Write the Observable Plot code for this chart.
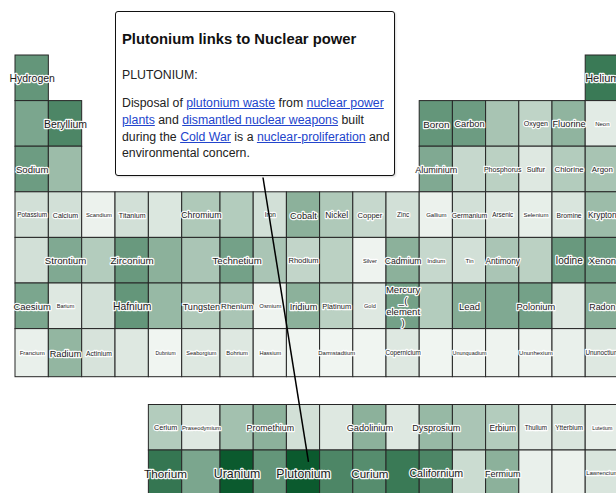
<!DOCTYPE html>
<html>
<head>
<meta charset="utf-8">
<script src="https://cdn.jsdelivr.net/npm/d3@7"></script>
<script src="https://cdn.jsdelivr.net/npm/@observablehq/plot@0.6"></script>
<style>
  html, body { margin: 0; padding: 0; background: #fff; overflow: hidden; }
  #wrap { position: relative; width: 616px; height: 493px; }
  #chart svg { display: block; }
  .tip {
    position: absolute; left: 115px; top: 11px; width: 278px; height: 163px;
    background: #fff; border: 1.5px solid #111; border-radius: 3px;
    font-family: "Liberation Sans", Arial, sans-serif; color: #222;
    box-shadow: 1px 1px 2px rgba(0,0,0,0.15);
  }
  .tip .t { position: absolute; left: 6px; top: 19px; font-weight: bold; font-size: 14.8px; line-height: 17px; white-space: nowrap; color: #111; }
  .tip .h { position: absolute; left: 6px; top: 55px; font-size: 12.3px; line-height: 16px; white-space: nowrap; }
  .tip .p { position: absolute; left: 6px; top: 83px; font-size: 12.3px; line-height: 16.8px; white-space: nowrap; }
  .tip a { color: #2244cc; text-decoration: underline; }
</style>
</head>
<body>
<div id="wrap">
  <div id="chart"></div>
  <div class="tip">
    <div class="t">Plutonium links to Nuclear power</div>
    <div class="h">PLUTONIUM:</div>
    <div class="p">Disposal of <a>plutonium waste</a> from <a>nuclear power</a><br><a>plants</a> and <a>dismantled nuclear weapons</a> built<br>during the <a>Cold War</a> is a <a>nuclear-proliferation</a> and<br>environmental concern.</div>
  </div>
</div>
<script>
// Element names in atomic-number order (1..118)
const names = [
  "Hydrogen","Helium","Lithium","Beryllium","Boron","Carbon","Nitrogen","Oxygen","Fluorine","Neon",
  "Sodium","Magnesium","Aluminium","Silicon","Phosphorus","Sulfur","Chlorine","Argon","Potassium","Calcium",
  "Scandium","Titanium","Vanadium","Chromium","Manganese","Iron","Cobalt","Nickel","Copper","Zinc",
  "Gallium","Germanium","Arsenic","Selenium","Bromine","Krypton","Rubidium","Strontium","Yttrium","Zirconium",
  "Niobium","Molybdenum","Technetium","Ruthenium","Rhodium","Palladium","Silver","Cadmium","Indium","Tin",
  "Antimony","Tellurium","Iodine","Xenon","Caesium","Barium","Lanthanum","Cerium","Praseodymium","Neodymium",
  "Promethium","Samarium","Europium","Gadolinium","Terbium","Dysprosium","Holmium","Erbium","Thulium","Ytterbium",
  "Lutetium","Hafnium","Tantalum","Tungsten","Rhenium","Osmium","Iridium","Platinum","Gold","Mercury\n_(\nelement\n)",
  "Thallium","Lead","Bismuth","Polonium","Astatine","Radon","Francium","Radium","Actinium","Thorium",
  "Protactinium","Uranium","Neptunium","Plutonium","Americium","Curium","Berkelium","Californium","Einsteinium","Fermium",
  "Mendelevium","Nobelium","Lawrencium","Rutherfordium","Dubnium","Seaborgium","Bohrium","Hassium","Meitnerium","Darmstadtium",
  "Roentgenium","Copernicium","Ununtrium","Ununquadium","Ununpentium","Ununhexium","Ununseptium","Ununoctium"
];

// Link strength to "Nuclear power" (0 = none, 1 = strongest), by atomic number
const strength = [
  0.62,0.80,0.52,0.72,0.62,0.58,0.33,0.23,0.43,0.08,
  0.58,0.38,0.50,0.20,0.25,0.10,0.28,0.33,0.15,0.15,
  0.04,0.15,0.11,0.30,0.28,0.15,0.45,0.30,0.20,0.15,
  0.04,0.15,0.10,0.06,0.12,0.38,0.15,0.50,0.28,0.60,
  0.45,0.32,0.55,0.32,0.22,0.25,0.03,0.45,0.20,0.15,
  0.32,0.25,0.60,0.58,0.52,0.10,0.15,0.28,0.10,0.35,
  0.45,0.15,0.10,0.45,0.10,0.40,0.32,0.28,0.08,0.12,
  0.07,0.62,0.40,0.30,0.32,0.03,0.45,0.25,0.10,0.55,
  0.28,0.48,0.50,0.55,0.10,0.48,0.05,0.42,0.13,0.82,
  0.52,1.00,0.62,1.00,0.72,0.68,0.80,0.72,0.18,0.45,
  0.05,0.04,0.12,0.10,0.02,0.10,0.10,0.03,0.02,0.02,
  0.02,0.10,0.02,0.03,0.03,0.03,0.05,0.10
];

// Label prominence (0 = no label shown), by atomic number
const prominence = [
  8.1,8.8,0,8.1,7.3,6.5,0,3.8,6.5,2.5,
  7.0,0,6.3,0,3.8,3.8,4.8,4.8,3.0,3.8,
  2.3,3.8,0,5.9,0,3.1,6.6,5.5,4.5,3.1,
  2.5,3.5,2.9,2.5,3.4,5.4,0,7.1,0,7.3,
  0,0,7.0,0,4.4,0,2.0,5.8,2.6,2.5,
  5.3,0,7.5,6.8,6.9,1.9,0,4.0,2.3,0,
  6.0,0,0,6.5,0,6.4,0,5.5,2.9,3.1,
  1.6,7.9,0,6.3,5.0,2.4,6.5,4.3,1.9,6.9,
  0,6.9,0,6.6,0,6.1,2.5,6.5,3.4,9.6,
  0,10.4,0,10.3,0,9.4,0,8.3,0,6.3,
  0,0,2.5,0,1.3,2.0,2.3,2.0,0,2.4,
  0,2.9,0,1.8,0,2.5,0,2.9
];

// Periodic-table layout: [column, row] from atomic number (f-block rows are 9 and 10)
function place(z) {
  if (z === 1) return [1, 1];
  if (z === 2) return [18, 1];
  if (z <= 18) {
    const start = z <= 10 ? 3 : 11, row = z <= 10 ? 2 : 3, i = z - start;
    return [i < 2 ? i + 1 : i + 11, row];
  }
  if (z <= 54) { const start = z <= 36 ? 19 : 37; return [z - start + 1, z <= 36 ? 4 : 5]; }
  if (z <= 86) {
    if (z <= 57) return [z - 54, 6];
    if (z <= 71) return [z - 53, 9];
    return [z - 68, 6];
  }
  if (z <= 89) return [z - 86, 7];
  if (z <= 103) return [z - 85, 10];
  return [z - 100, 7];
}

const cells = names.map((name, i) => {
  const [col, row] = place(i + 1);
  return { z: i + 1, name, col, row, v: strength[i], p: prominence[i] };
});

// Layout of the grid (column/row edges -> pixels)
const xDomain = [1, 6, 7, 19], xRange = [15, 181.7, 220, 618.4];
const yDomain = [1, 7, 8, 9, 11], yRange = [55, 328.6, 376.7, 404.5, 495.5];
const xs = d3.scaleLinear(xDomain, xRange), ys = d3.scaleLinear(yDomain, yRange);

// Tooltip anchor (bottom of the box) and target element
const target = cells.find(d => d.name === "Plutonium");
const boxLeft = 115, boxBottom = 177, anchorOffset = 147.5;
const link = [{
  x1: xs.invert(boxLeft + anchorOffset), y1: ys.invert(boxBottom),
  x2: target.col + 0.65, y2: target.row + 0.25
}];

const chart = Plot.plot({
  width: 616, height: 493, margin: 0,
  style: { background: "white", overflow: "hidden", fontFamily: "Liberation Sans, Arial, sans-serif" },
  x: { type: "linear", domain: xDomain, range: xRange, axis: null },
  y: { type: "linear", domain: yDomain, range: yRange, axis: null },
  color: { type: "linear", domain: [0, 1], range: ["#f5f8f5", "#0b5a2e"], interpolate: "rgb" },
  marks: [
    Plot.rect(cells, {
      x1: "col", x2: d => d.col + 1, y1: "row", y2: d => d.row + 1,
      fill: "v", stroke: "#262626", strokeWidth: 1
    }),
    Plot.text(cells.filter(d => d.p > 0), {
      x: d => d.col + 0.5, y: d => d.row + 0.5, text: "name",
      fontSize: d => 4 + 0.8 * d.p, lineHeight: 1.15,
      fill: "#1a1a1a", stroke: "white", strokeWidth: 2.5, strokeOpacity: 0.95,
      paintOrder: "stroke", fontFamily: "Liberation Sans, Arial, sans-serif"
    }),
    Plot.link(link, { x1: "x1", y1: "y1", x2: "x2", y2: "y2", stroke: "#000", strokeWidth: 1.5 })
  ]
});
document.getElementById("chart").appendChild(chart);
</script>
</body>
</html>
